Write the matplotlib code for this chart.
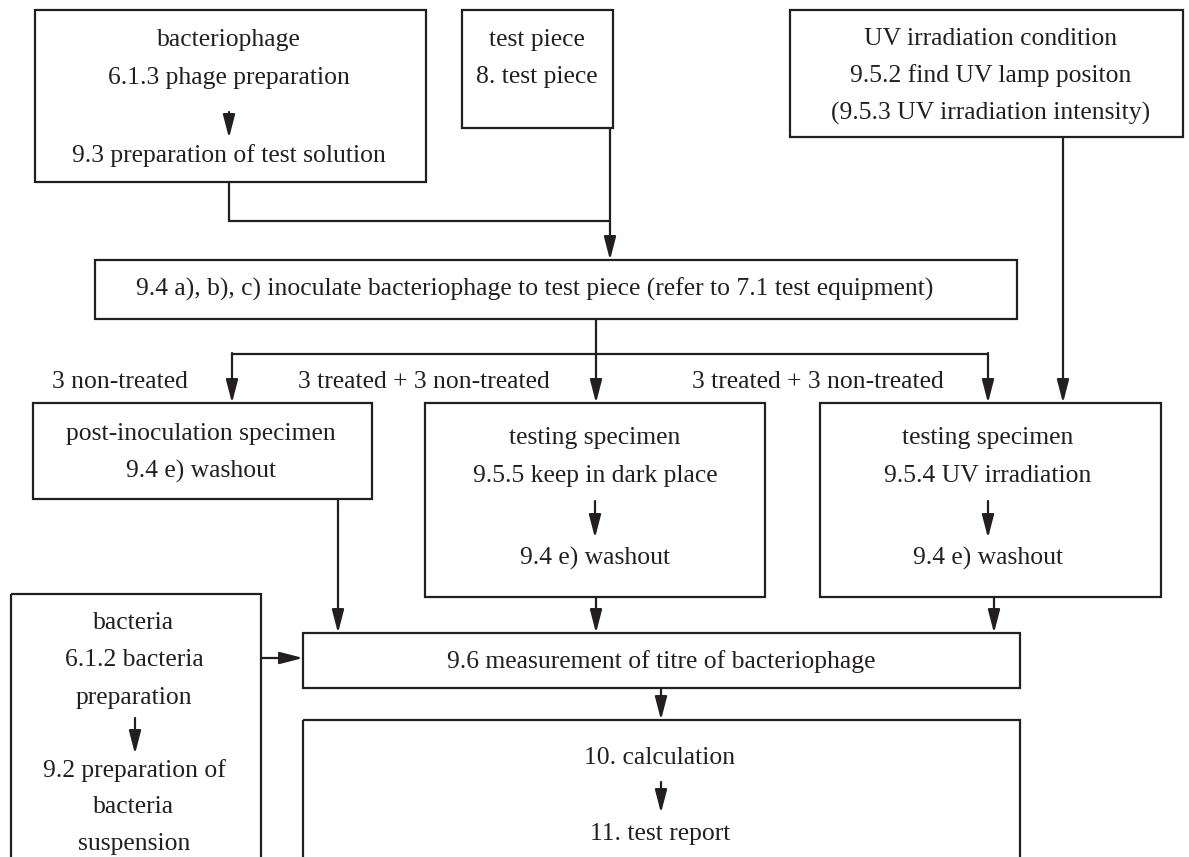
import matplotlib
matplotlib.use("Agg")
import matplotlib.pyplot as plt
from matplotlib.patches import Rectangle, FancyArrowPatch

# ---- content ----
phage_lines = ["bacteriophage", "6.1.3 phage preparation", "9.3 preparation of test solution"]
piece_lines = ["test piece", "8. test piece"]
uv_lines = ["UV irradiation condition", "9.5.2 find UV lamp positon", "(9.5.3 UV irradiation intensity)"]
inoc_text = "9.4 a), b), c) inoculate bacteriophage to test piece (refer to 7.1 test equipment)"
post_lines = ["post-inoculation specimen", "9.4 e) washout"]
dark_lines = ["testing specimen", "9.5.5 keep in dark place", "9.4 e) washout"]
uvspec_lines = ["testing specimen", "9.5.4 UV irradiation", "9.4 e) washout"]
bact_lines = ["bacteria", "6.1.2 bacteria", "preparation", "9.2 preparation of", "bacteria", "suspension"]
titre_text = "9.6 measurement of titre of bacteriophage"
calc_lines = ["10. calculation", "11. test report"]
branch_labels = ["3 non-treated", "3 treated + 3 non-treated", "3 treated + 3 non-treated"]

W, H = 1189, 857
C = "#231f20"
LW = 1.6
FONT = "Liberation Serif"

fig = plt.figure(figsize=(W / 100, H / 100), dpi=100)
ax = fig.add_axes([0, 0, 1, 1])
ax.set_xlim(0, W)
ax.set_ylim(H, 0)
ax.axis("off")

# calibrate font size so that text widths match the reference (pixel widths)
calib = [(phage_lines[2], 313), (uv_lines[2], 323), (branch_labels[0], 137),
         (branch_labels[1], 256), (calc_lines[0], 146)]
renderer = fig.canvas.get_renderer()
meas = 0.0
for s, _ in calib:
    t = ax.text(0, 0, s, fontsize=10, family=FONT)
    meas += t.get_window_extent(renderer).width
    t.remove()
FS = 10 * sum(w for _, w in calib) / meas


def box(x0, y0, x1, y1):
    ax.add_patch(Rectangle((x0, y0), x1 - x0, y1 - y0, fill=False, ec=C, lw=LW, joinstyle="miter"))


def txt(x, y, s):
    ax.text(x, y, s, ha="center", va="center", fontsize=FS, family=FONT, color=C)


def line(xs, ys):
    ax.plot(xs, ys, color=C, lw=LW, solid_capstyle="butt", solid_joinstyle="miter")


def arrow(x0, y0, x1, y1):
    ax.add_patch(FancyArrowPatch((x0, y0), (x1, y1), arrowstyle="-|>,head_length=1.0,head_width=0.26",
                                 mutation_scale=14, color=C, lw=LW, shrinkA=0, shrinkB=0))


# boxes
box(35, 10, 426, 182)
txt(229, 40, phage_lines[0]); txt(229, 78, phage_lines[1]); arrow(229, 112, 229, 138); txt(229, 156, phage_lines[2])

box(462, 10, 613, 128)
txt(537, 40, piece_lines[0]); txt(537, 77, piece_lines[1])

box(790, 10, 1183, 137)
for i, s in enumerate(uv_lines):
    txt(991, 39 + 37 * i, s)

box(95, 260, 1017, 319)
txt(535, 289, inoc_text)

box(33, 403, 372, 499)
txt(201, 434, post_lines[0]); txt(201, 471, post_lines[1])

box(425, 403, 765, 597)
txt(595, 438, dark_lines[0]); txt(595, 476, dark_lines[1]); arrow(595, 501, 595, 538); txt(595, 558, dark_lines[2])

box(820, 403, 1161, 597)
txt(988, 438, uvspec_lines[0]); txt(988, 476, uvspec_lines[1]); arrow(988, 501, 988, 538); txt(988, 558, uvspec_lines[2])

box(11, 594, 261, 870)
txt(134, 623, bact_lines[0]); txt(134, 660, bact_lines[1]); txt(134, 698, bact_lines[2])
arrow(135, 718, 135, 754)
txt(134, 771, bact_lines[3]); txt(134, 807, bact_lines[4]); txt(134, 844, bact_lines[5])

box(303, 633, 1020, 688)
txt(661, 662, titre_text)

box(303, 720, 1020, 870)
txt(660, 758, calc_lines[0]); arrow(661, 782, 661, 813); txt(660, 834, calc_lines[1])

# connectors
line([229, 229, 610], [182, 221, 221])
arrow(610, 128, 610, 260)
arrow(1063, 137, 1063, 403)
line([596, 596], [319, 354])
line([232, 988], [354, 354])
arrow(596, 353, 596, 403)
arrow(232, 353, 232, 403)
arrow(988, 353, 988, 403)
arrow(338, 499, 338, 633)
arrow(596, 597, 596, 633)
arrow(994, 597, 994, 633)
arrow(261, 658, 303, 658)
arrow(661, 688, 661, 720)

txt(120, 382, branch_labels[0])
txt(424, 382, branch_labels[1])
txt(818, 382, branch_labels[2])

fig.savefig("out.png", dpi=100, facecolor="white")
